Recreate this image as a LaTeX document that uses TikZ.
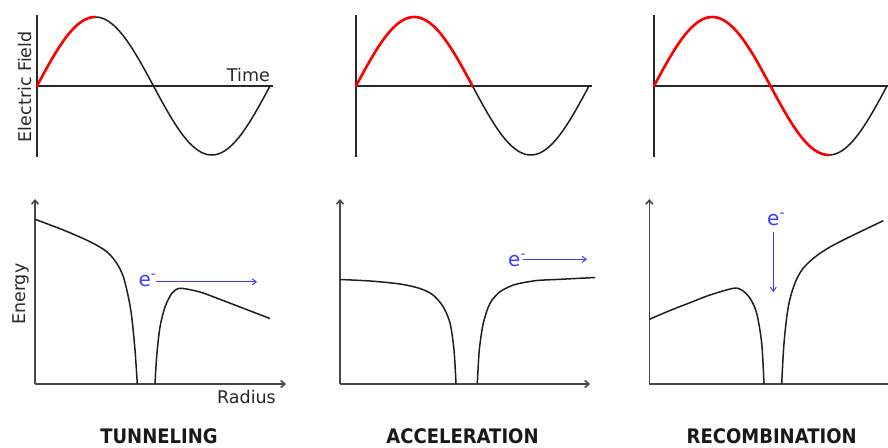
\documentclass[tikz,border=0pt]{standalone}
\usepackage{fontspec}
\setmainfont{DejaVu Sans}
\newfontfamily\titlefont{DejaVu Sans}[FakeStretch=0.9]
\usetikzlibrary{arrows.meta}
\definecolor{eblue}{RGB}{60,60,255}
\definecolor{axgray}{RGB}{40,40,40}
\definecolor{curvegray}{RGB}{30,30,30}
\definecolor{labgray}{RGB}{40,40,40}
\begin{document}
\begin{tikzpicture}[x=1pt,y=-1pt,
  topaxis/.style={line width=2.2pt, draw=axgray},
  sineline/.style={line width=1.5pt, draw=curvegray},
  redline/.style={line width=2.6pt, draw=red, line cap=round},
  botaxis/.style={line width=1.6pt, draw=axgray!85},
  axarrow/.style={-{Straight Barb[length=4pt,width=7pt]}},
  potential/.style={line width=1.5pt, draw=curvegray},
  lab/.style={font=\fontsize{17.5}{20}\selectfont, text=labgray, inner sep=0pt},
  elec/.style={font=\fontsize{20}{22}\selectfont, text=eblue, inner sep=0pt, anchor=base west},
  earrow/.style={line width=1pt, draw=eblue, -{Straight Barb[length=4pt,width=6pt]}},
  paneltitle/.style={font=\titlefont\bfseries\fontsize{20}{22}\selectfont, text=black!90, inner sep=0pt, anchor=base}
]
\useasboundingbox (0,0) rectangle (888,447);

% ---------- top row: electric field ----------
\foreach \xo/\redend [count=\i] in {37/90, 356/180, 654/270}{
  \coordinate (top\i) at (\xo,86);
  \draw[topaxis] (\xo,15) -- (\xo,157);
  \draw[topaxis] (top\i) -- (\xo+235.5,86);
  \draw[sineline] plot[domain=0:360, samples=120, smooth] ({\xo+\x/360*233},{86-69*sin(\x)});
  \draw[redline] plot[domain=0:\redend, samples=90, smooth] ({\xo+\x/360*233},{86-69*sin(\x)});
}
\node[lab, anchor=base east] (time) at (270,81.7) {Time};
\node[lab, rotate=90, anchor=base] (efield) at (31,86.7) {Electric Field};

% ---------- bottom row: potentials ----------
% panel 1
\coordinate (o1) at (35,384);
\coordinate (y1) at (35,199);
\coordinate (x1) at (286,384);
\draw[botaxis, axarrow] (o1) -- (y1);
\draw[botaxis, axarrow] (o1) -- (x1);
\draw[potential] plot[smooth, tension=0.55] coordinates {(35,219.3) (63.3,230) (90,241.7) (106.7,251.7) (116.7,263.3) (123.3,276.7) (128.3,296.7) (131.7,316.7) (135,350) (137.3,384)};
\draw[potential] plot[smooth, tension=0.5] coordinates {(155,384) (156.7,356) (160,327) (165,307) (171.7,293.5) (178.3,288.5) (186.7,289) (200,292) (210,295.5) (240,307) (270,318.5)};
\node[elec] (e1) at (138.3,286.5) {e\textsuperscript{-}};
\coordinate (a1s) at (156,281.7);
\coordinate (a1e) at (257,281.7);
\draw[earrow] (a1s) -- (a1e);
\node[lab, rotate=90, anchor=base] (energy) at (25,294.2) {Energy};
\node[lab, anchor=base east] (radius) at (276,403) {Radius};
\node[paneltitle] (t1) at (159,443) {TUNNELING};

% panel 2
\coordinate (o2) at (340,384);
\coordinate (y2) at (340,199);
\coordinate (x2) at (590,384);
\draw[botaxis, axarrow] (o2) -- (y2);
\draw[botaxis, axarrow] (o2) -- (x2);
\draw[potential] plot[smooth, tension=0.5] coordinates {(340,279.5) (370,281) (400,284) (420,288.5) (433,295) (443,306.5) (450,323) (454,350) (456,384)};
\draw[potential] plot[smooth, tension=0.5] coordinates {(477.3,384) (479.3,350) (483.3,323.3) (490,303.3) (500,291.7) (513.3,285) (520,283.3) (537,280.5) (560,279.3) (595,277.5)};
\node[elec] (e2) at (508,266.5) {e\textsuperscript{-}};
\coordinate (a2s) at (523.3,259.3);
\coordinate (a2e) at (587,259.3);
\draw[earrow] (a2s) -- (a2e);
\node[paneltitle] (t2) at (462.5,443) {ACCELERATION};

% panel 3
\coordinate (o3) at (649.3,384);
\coordinate (y3) at (649.3,199);
\coordinate (x3) at (888,384);
\draw[botaxis, axarrow] (o3) -- (y3);
\draw[botaxis] (o3) -- (x3);
\draw[potential] plot[smooth, tension=0.5] coordinates {(649.3,319.3) (670,310.5) (690,302.7) (710,295) (733.3,288.3) (741.7,290) (750,298.3) (756.7,313.3) (761.7,343.3) (764,384)};
\draw[potential] plot[smooth, tension=0.55] coordinates {(781.7,384) (784,343.3) (788.3,306.7) (795,283) (803,268.5) (815,257) (830,247) (850,236.7) (883.3,220.7)};
\node[elec] (e3) at (767,225) {e\textsuperscript{-}};
\coordinate (a3s) at (773.3,231.7);
\coordinate (a3e) at (773.3,292);
\draw[earrow] (a3s) -- (a3e);
\node[paneltitle] (t3) at (771.7,443) {RECOMBINATION};
\end{tikzpicture}
\end{document}
